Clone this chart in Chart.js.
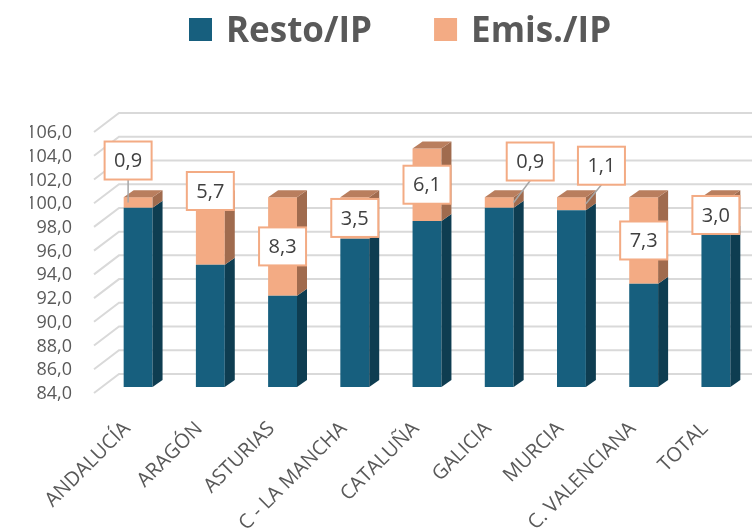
<!DOCTYPE html>
<html>
<head>
<meta charset="utf-8">
<script src="https://cdn.jsdelivr.net/npm/chart.js@4"></script>
<style>
  body { margin: 0; background: #fff; }
  #wrap { width: 752px; height: 530px; }
</style>
</head>
<body>
<div id="wrap"><canvas id="myChart" width="752" height="530"></canvas></div>
<script>
const categories = ['ANDALUCÍA', 'ARAGÓN', 'ASTURIAS', 'C - LA MANCHA', 'CATALUÑA', 'GALICIA', 'MURCIA', 'C. VALENCIANA', 'TOTAL']
const restoIP = [99.1, 94.3, 91.7, 96.5, 98.0, 99.1, 98.9, 92.7, 97.0]
const emisIP = [0.9, 5.7, 8.3, 3.5, 6.1, 0.9, 1.1, 7.3, 3.0]
const yMin = 84
const yMax = 106
const yStep = 2

// label nudges for the Emis./IP boxes (px from segment centre), plus leader line flag
const labelNudge = [
  { dx: -10, dy: -42, leader: true },
  { dx: 0, dy: -40, leader: false },
  { dx: 0, dy: 0, leader: false },
  { dx: 0, dy: 0, leader: false },
  { dx: 0, dy: 0, leader: false },
  { dx: 31, dy: -41, leader: true },
  { dx: 30, dy: -38, leader: true },
  { dx: 0, dy: 0, leader: false },
  { dx: 0, dy: 0, leader: false }
]

const fmt = v => v.toFixed(1).replace('.', ',')

const blue = '#175F7E'
const blueSide = '#0E3D51'
const orange = '#F3AB84'
const orangeSide = '#A06B4E'
const orangeTop = '#B97E5E'
const depthX = 10
const depthY = -7

// back wall + diagonal gridlines
const wallPlugin = {
  id: 'wall',
  beforeDatasetsDraw: (chart) => {
    const {ctx, chartArea, scales} = chart
    ctx.save()
    ctx.strokeStyle = '#D9D9D9'
    ctx.lineWidth = 2
    for (let v = yMin; v <= yMax; v += yStep) {
      let y = scales.y.getPixelForValue(v)
      ctx.beginPath()
      ctx.moveTo(chartArea.left - 8, y + 6)
      ctx.lineTo(chartArea.left + 17, y - 13)
      ctx.lineTo(chart.width, y - 13)
      ctx.stroke()
    }
    ctx.restore()
  }
}

// legend drawn by hand so it can sit high above the plot
const legendPlugin = {
  id: 'topLegend',
  afterDraw: (chart) => {
    const {ctx} = chart
    ctx.save()
    ctx.font = 'bold 35px "Open Sans"'
    ctx.textBaseline = 'alphabetic'
    ctx.textAlign = 'left'
    let x = 189
    chart.data.datasets.forEach((ds) => {
      ctx.fillStyle = ds.backgroundColor
      ctx.fillRect(x, 18, 23, 23)
      ctx.fillStyle = '#595959'
      ctx.fillText(ds.label, x + 37, 42)
      x += 37 + ctx.measureText(ds.label).width + 62
    })
    ctx.restore()
  }
}

// fake 3D sides and tops, then the data labels
const boxPlugin = {
  id: 'box3d',
  afterDatasetsDraw: (chart) => {
    const {ctx, chartArea} = chart
    ctx.save()
    chart.data.datasets.forEach((ds, di) => {
      let meta = chart.getDatasetMeta(di)
      meta.data.forEach((bar) => {
        let half = bar.width / 2
        let top = bar.y
        let bottom = Math.min(bar.base, chartArea.bottom)
        let r = bar.x + half
        ctx.fillStyle = di === 0 ? blueSide : orangeSide
        ctx.beginPath()
        ctx.moveTo(r, top)
        ctx.lineTo(r + depthX, top + depthY)
        ctx.lineTo(r + depthX, bottom + depthY)
        ctx.lineTo(r, bottom)
        ctx.closePath()
        ctx.fill()
        if (di === chart.data.datasets.length - 1) {
          ctx.fillStyle = orangeTop
          ctx.beginPath()
          ctx.moveTo(bar.x - half, top)
          ctx.lineTo(bar.x - half + depthX, top + depthY)
          ctx.lineTo(r + depthX, top + depthY)
          ctx.lineTo(r, top)
          ctx.closePath()
          ctx.fill()
        }
      })
    })

    // labels for Emis./IP
    let meta = chart.getDatasetMeta(1)
    meta.data.forEach((bar, i) => {
      let n = labelNudge[i]
      let segMid = (bar.y + bar.base) / 2
      let cx = bar.x + n.dx
      let cy = segMid + n.dy
      let w = 47, h = 38
      if (n.leader) {
        let half = bar.width / 2
        let ex = Math.max(bar.x - half, Math.min(bar.x + half, cx))
        ctx.strokeStyle = '#A6A6A6'
        ctx.lineWidth = 1.5
        ctx.beginPath()
        ctx.moveTo(cx, cy + h / 2)
        ctx.lineTo(ex, segMid)
        ctx.stroke()
      }
      ctx.fillStyle = '#fff'
      ctx.fillRect(cx - w / 2, cy - h / 2, w, h)
      ctx.strokeStyle = orange
      ctx.lineWidth = 2
      ctx.strokeRect(cx - w / 2, cy - h / 2, w, h)
      ctx.fillStyle = '#404040'
      ctx.font = '20px "Open Sans"'
      ctx.textAlign = 'center'
      ctx.textBaseline = 'middle'
      ctx.fillText(fmt(emisIP[i]), cx, cy + 1)
    })
    ctx.restore()
  }
}

const ctx = document.getElementById('myChart')

new Chart(ctx, {
  type: 'bar',
  data: {
    labels: categories,
    datasets: [
      {
        label: 'Resto/IP',
        data: restoIP,
        backgroundColor: blue,
        barPercentage: 0.4,
        categoryPercentage: 1
      },
      {
        label: 'Emis./IP',
        data: emisIP,
        backgroundColor: orange,
        barPercentage: 0.4,
        categoryPercentage: 1
      }
    ]
  },
  options: {
    responsive: false,
    animation: false,
    layout: { padding: { left: 30, right: 0, top: 126, bottom: 0 } },
    plugins: {
      legend: { display: false },
      tooltip: { enabled: false }
    },
    scales: {
      x: {
        stacked: true,
        grid: { display: false },
        border: { display: false },
        ticks: {
          autoSkip: false,
          minRotation: 45,
          maxRotation: 45,
          padding: 22,
          labelOffset: -11,
          color: '#595959',
          font: { family: '"Open Sans"', size: 20 }
        },
        afterFit: (axis) => {
          axis.height = 143
          axis.paddingLeft = 0
          axis.paddingRight = 0
        }
      },
      y: {
        stacked: true,
        min: yMin,
        max: yMax,
        grid: { display: false, drawTicks: false },
        border: { display: false },
        ticks: {
          autoSkip: false,
          stepSize: yStep,
          padding: 30,
          labelOffset: 7,
          color: '#595959',
          font: { family: '"Open Sans"', size: 18 },
          callback: (v) => fmt(v)
        },
        afterFit: (axis) => { axis.width = 72 }
      }
    }
  },
  plugins: [wallPlugin, boxPlugin, legendPlugin]
})
</script>
</body>
</html>
